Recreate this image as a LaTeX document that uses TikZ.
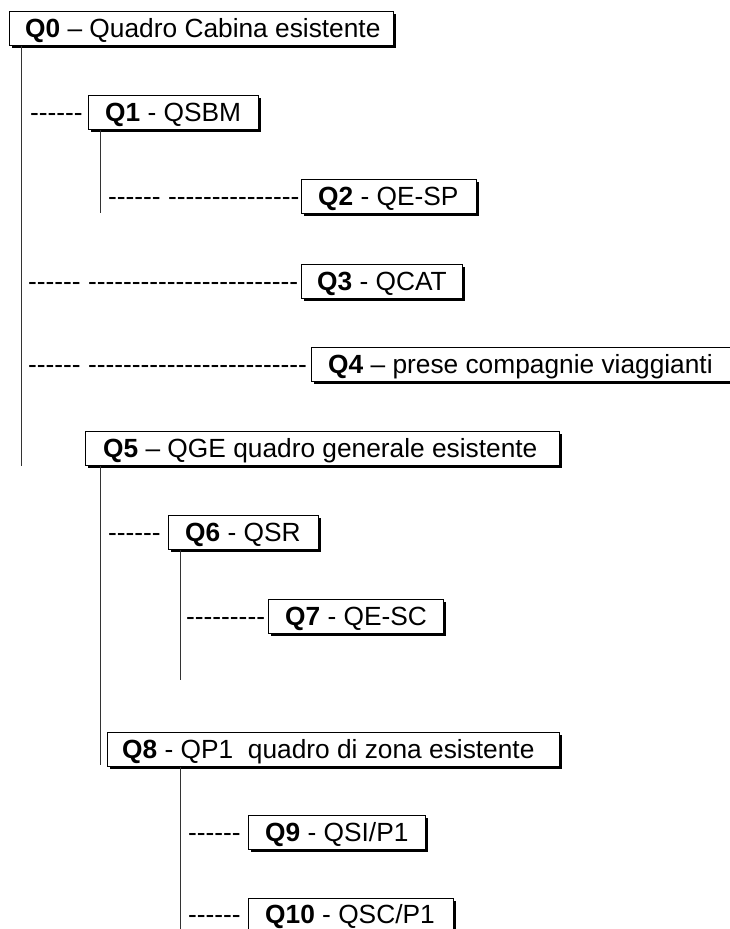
\documentclass[tikz,border=0pt]{standalone}
\usepackage{fontspec}
\setmainfont{Liberation Sans}[Ligatures=TeXOff]
\usetikzlibrary{shadows}
\begin{document}
\begin{tikzpicture}[x=1pt,y=-1pt,
  qbox/.style={draw=black, line width=1.4pt, fill=white, minimum height=34pt, inner sep=0pt, anchor=north west,
    drop shadow={shadow xshift=2.5pt, shadow yshift=-2.5pt, opacity=1, fill=black}},
  qtxt/.style={anchor=base west, inner sep=0pt, font=\fontsize{26.3}{30}\selectfont},
  vline/.style={draw=black!80, line width=0.9pt}]
\useasboundingbox (0,0) rectangle (730,929);
% end points of the vertical lines
\coordinate (e0) at (21,466);
\coordinate (e1) at (100,213);
\coordinate (e5) at (100,765);
\coordinate (e6) at (180,680);
\coordinate (e8) at (180,935);
% boxes
\node[qbox, minimum width=384pt] (q0) at (9,11) {};
\node[qbox, minimum width=170pt] (q1) at (88,95) {};
\node[qbox, minimum width=175pt] (q2) at (301,179) {};
\node[qbox, minimum width=161pt] (q3) at (301,264) {};
\node[qbox, minimum width=440pt] (q4) at (311,347) {};
\node[qbox, minimum width=474pt] (q5) at (85,431) {};
\node[qbox, minimum width=150pt] (q6) at (168,515) {};
\node[qbox, minimum width=175pt] (q7) at (268,599) {};
\node[qbox, minimum width=452pt] (q8) at (107,732) {};
\node[qbox, minimum width=177pt] (q9) at (248,815) {};
\node[qbox, minimum width=205pt] (q10) at (248,898) {};
% vertical lines
\draw[vline] (e0 |- q0.south) -- (e0);
\draw[vline] (e1 |- q1.south) -- (e1);
\draw[vline] (e5 |- q5.south) -- (e5);
\draw[vline] (e6 |- q6.south) -- (e6);
\draw[vline] (e8 |- q8.south) -- (e8);
% texts
\node[qtxt] (t0) at (25,37) {\textbf{Q0} – Quadro Cabina esistente};
\node[qtxt] (t1) at (105,121) {\textbf{Q1} - QSBM};
\node[qtxt] (t2) at (318,205) {\textbf{Q2} - QE-SP};
\node[qtxt] (t3) at (317,290) {\textbf{Q3} - QCAT};
\node[qtxt] (t4) at (328,373) {\textbf{Q4} – prese compagnie viaggianti};
\node[qtxt] (t5) at (103,457) {\textbf{Q5} – QGE quadro generale esistente};
\node[qtxt] (t6) at (185,541) {\textbf{Q6} - QSR};
\node[qtxt] (t7) at (285,625) {\textbf{Q7} - QE-SC};
\node[qtxt] (t8) at (122,758) {\textbf{Q8} - QP1\ \ quadro di zona esistente};
\node[qtxt] (t9) at (265,841) {\textbf{Q9} - QSI/P1};
\node[qtxt] (t10) at (265,923) {\textbf{Q10} - QSC/P1};
% dashes
\node[qtxt] (d1) at (30,121) {------};
\node[qtxt] (d2) at (108,205) {------ ---------------};
\node[qtxt] (d3) at (28,290) {------ ------------------------};
\node[qtxt] (d4) at (28,373) {------ -------------------------};
\node[qtxt] (d6) at (108,541) {------};
\node[qtxt] (d7) at (186,625) {---------};
\node[qtxt] (d9) at (188,841) {------};
\node[qtxt] (d10) at (188,923) {------};
\end{tikzpicture}
\end{document}
